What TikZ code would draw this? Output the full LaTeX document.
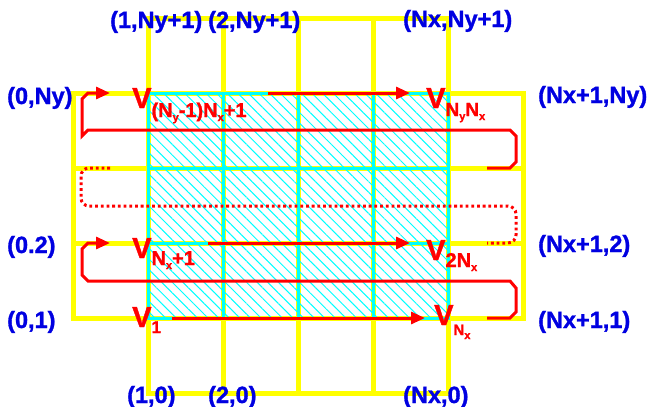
\documentclass[tikz,border=0pt]{standalone}
\usepackage{fontspec}
\setmainfont{Liberation Sans}[BoldFeatures={FakeBold=1.3}]
\usetikzlibrary{patterns.meta,arrows.meta}
\definecolor{lblblue}{RGB}{0,0,225}
\definecolor{ylw}{RGB}{255,255,0}
\definecolor{cyn}{RGB}{0,255,255}
\newcommand{\Vbig}{{\fontsize{29}{29}\selectfont V}}
\newcommand{\tinysub}[1]{\raisebox{-4pt}{\fontsize{11}{11}\selectfont #1}}
\begin{document}
\begin{tikzpicture}[x=1pt,y=-1pt,
  yl/.style={draw=ylw,line width=5pt},
  cy/.style={draw=cyn,line width=3pt},
  rd/.style={draw=red,line width=3pt},
  rdarrow/.style={rd,-{Triangle[length=14pt,width=12pt]}},
  rddot/.style={rd,dash pattern=on 2.8pt off 2.9pt,rounded corners=8pt},
  blbl/.style={text=lblblue,font=\bfseries\fontsize{23.5}{23.5}\selectfont,inner sep=0pt,anchor=base west},
  vlbl/.style={text=red,font=\bfseries,inner sep=0pt,anchor=base west}]
\useasboundingbox (0,0) rectangle (651,407);
% yellow frame
\draw[yl] (73,93) rectangle (523,318);
\draw[yl] (148,18) rectangle (448,393);
\foreach \x in {223,298,373} \draw[yl] (\x,18) -- (\x,393);
\foreach \y in {168,243} \draw[yl] (73,\y) -- (523,\y);
% hatched cyan region
\fill[pattern={Lines[angle=-45,distance=7.5pt,line width=1pt]},pattern color=cyn] (148,93) rectangle (448,318);
\draw[cy] (148,93) rectangle (448,318);
\foreach \x in {223,298,373} \draw[cy] (\x,93) -- (\x,318);
\foreach \y in {168,243} \draw[cy] (148,\y) -- (448,\y);
% red paths
\coordinate (a1) at (268,93); \coordinate (a2) at (410,93);
\coordinate (b1) at (208,243); \coordinate (b2) at (410,243);
\coordinate (c1) at (172,318); \coordinate (c2) at (425,318);
\draw[rdarrow] (a1) -- (a2);
\draw[rdarrow] (b1) -- (b2);
\draw[rdarrow] (c1) -- (c2);
\coordinate (t0) at (487,168); \coordinate (t1) at (110,93);
\draw[rdarrow] (t0) -- (510,168) -- (516,162) -- (516,136) -- (510,130) -- (88,130) -- (82,136) -- (82,99) -- (88,93) -- (t1);
\coordinate (m0) at (487,318); \coordinate (m1) at (110,243);
\draw[rdarrow] (m0) -- (510,318) -- (516,312) -- (516,288) -- (510,281) -- (88,281) -- (82,275) -- (82,249) -- (88,243) -- (m1);
\coordinate (d0) at (110,168); \coordinate (d1) at (487,243);
\draw[rddot] (d0) -- (81,168) -- (81,206) -- (516,206) -- (516,243) -- (d1);
% blue labels
\node[blbl] (l1) at (110,28) {(1,Ny+1)};
\node[blbl] (l2) at (208,28) {(2,Ny+1)};
\node[blbl] (l3) at (403,27) {(Nx,Ny+1)};
\node[blbl] (l4) at (7,104) {(0,Ny)};
\node[blbl] (l5) at (538,103) {(Nx+1,Ny)};
\node[blbl] (l6) at (7,253) {(0.2)};
\node[blbl] (l7) at (538,252) {(Nx+1,2)};
\node[blbl] (l8) at (7,328) {(0,1)};
\node[blbl] (l9) at (538,328) {(Nx+1,1)};
\node[blbl] (l10) at (127,403) {(1,0)};
\node[blbl] (l11) at (208,403) {(2,0)};
\node[blbl] (l12) at (403,403) {(Nx,0)};
% red vertex labels
\node[vlbl] (v1) at (132,108) {\Vbig\raisebox{-9pt}{\fontsize{20}{20}\selectfont (N\tinysub{y}-1)N\tinysub{x}+1}};
\node[vlbl] (v2) at (426,108) {\Vbig\raisebox{-8pt}{\fontsize{19}{19}\selectfont N\tinysub{y}N\tinysub{x}}};
\node[vlbl] (v3) at (132,258) {\Vbig\raisebox{-7pt}{\fontsize{20}{20}\selectfont N\tinysub{x}+1}};
\node[vlbl] (v4) at (426,260) {\Vbig\raisebox{-7pt}{\fontsize{20}{20}\selectfont 2N\tinysub{x}}};
\node[vlbl] (v5) at (132,327) {\Vbig\raisebox{-6pt}{\fontsize{17}{17}\selectfont 1}};
\node[vlbl] (v6) at (434,325) {\Vbig\raisebox{-10pt}{\fontsize{15}{15}\selectfont N\tinysub{x}}};
\end{tikzpicture}
\end{document}
